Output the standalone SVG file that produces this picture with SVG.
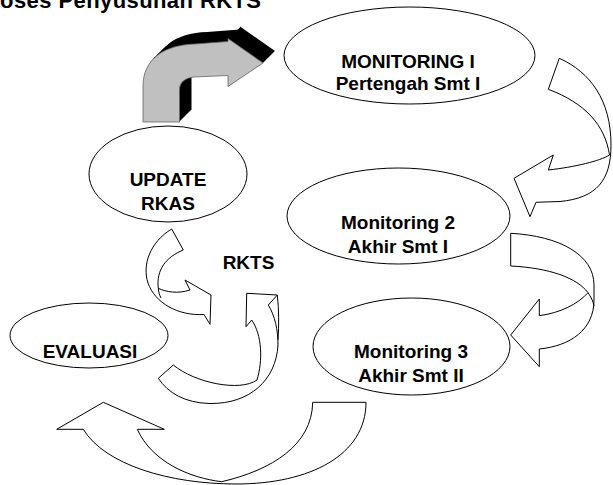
<svg xmlns="http://www.w3.org/2000/svg" xmlns:xlink="http://www.w3.org/1999/xlink" width="613" height="485" viewBox="0 0 613 485">
<style>
.node{fill:#fff;stroke:#000;stroke-width:1}
.lbl{font-family:"Liberation Sans",Arial,sans-serif;font-weight:bold;font-size:19px;fill:#000;text-anchor:middle}
.arr{fill:#fff;stroke:#000;stroke-width:1;stroke-linejoin:miter}
.ln{fill:none;stroke:#000;stroke-width:1}
</style>
<defs>
<path id="bent" d="M143,122 L143,86 C143,60 163,45 195,44 L228,41.5 L228,38.5 L263,63 L228,86.5 L228,75.5 L194,77 C185,78 179.5,82 179.5,90 L179.5,122 Z"/>
</defs>
<rect width="613" height="485" fill="#fff"/>
<text x="-24" y="7.5" textLength="285" lengthAdjust="spacing" style="font-family:'Liberation Sans',Arial,sans-serif;font-weight:bold;font-size:22px">Proses Penyusunan RKTS</text>

<g id="connectors">
  <g id="bent-arrow">
    <use xlink:href="#bent" href="#bent" transform="translate(1,-1)" fill="#000"/>
    <use xlink:href="#bent" href="#bent" transform="translate(2,-2)" fill="#000"/>
    <use xlink:href="#bent" href="#bent" transform="translate(3,-3)" fill="#000"/>
    <use xlink:href="#bent" href="#bent" transform="translate(4,-4)" fill="#000"/>
    <use xlink:href="#bent" href="#bent" transform="translate(5,-5)" fill="#000"/>
    <use xlink:href="#bent" href="#bent" transform="translate(6,-6)" fill="#000"/>
    <use xlink:href="#bent" href="#bent" transform="translate(7,-7)" fill="#000"/>
    <use xlink:href="#bent" href="#bent" transform="translate(8,-8)" fill="#000"/>
    <use xlink:href="#bent" href="#bent" transform="translate(9,-9)" fill="#000"/>
    <use xlink:href="#bent" href="#bent" transform="translate(10,-10)" fill="#000"/>
    <use xlink:href="#bent" href="#bent" transform="translate(11,-11)" fill="#000"/>
    <use xlink:href="#bent" href="#bent" transform="translate(12,-12)" fill="#000"/>
    <use xlink:href="#bent" href="#bent" fill="#c0c0c0" stroke="#666" stroke-width="0.8"/>
  </g>
  <path id="arrow-a" class="arr" d="M559.3,58.3 C590,72 611,100 611,145 C611,180 597,198 560,201.5 L536,202.3 L530,216.7 L514,178.3 L553.3,155 L548.3,170 C575,167 600,161 609.5,155 C605,125 585,103 548.3,89.3 Z"/>
  <path id="arrow-b" class="arr" d="M510.7,233.3 C560,236 594,255 594,285 L594,300 C594,330 570,346 539.3,349 L539.3,366.7 L510.7,335 L539.3,299 L539.3,315.7 C560,313 578,304 588,292.7 C577,278 550,268 510.7,266 Z"/>
  <path class="ln" d="M588,292.7 C591,297 593,301 594,306"/>
  <path id="arrow-c" class="arr" d="M312.7,402.3 L366,402.3 C366,455 310,484 236,484 C170,484 105,465 83.3,429.3 L56.7,429.3 L103.3,402.3 L164.3,429.3 L137.3,429.3 C152,462 190,478 221.7,481.7 C272,470 312,445 312.7,402.3 Z"/>
  <path id="arrow-d" class="arr" d="M171.7,229 C150,242 142,265 148,283 C155,303 178,316 204,314.5 L210,324.3 L211,295 L185,280 L190,290 C178,294 166,292 158.3,288.3 C156,270 166,257 183.3,250 Z"/>
  <path class="ln" d="M158.3,288.3 C158.5,292 159.5,295 161,298"/>
  <path id="arrow-e" class="arr" d="M173.3,365 C195,383 240,392 257,380 C263,360 262,335 251.7,320 L246,326.7 L246.7,293.3 L277.3,295 L268.3,305 C275,316 278,330 278,345 C276,380 250,404 210,403.5 C185,403 168,393 158.3,378.3 Z"/>
  <path class="ln" d="M277.3,295 C279,310 279,325 278,340"/>
</g>

<g id="monitoring1">
  <ellipse class="node" cx="409.5" cy="55.5" rx="125.5" ry="48.5"/>
  <text class="lbl" x="408" y="68">MONITORING I</text>
  <text class="lbl" x="408" y="90">Pertengah Smt I</text>
</g>
<g id="update-rkas">
  <ellipse class="node" cx="168" cy="174" rx="79" ry="48"/>
  <text class="lbl" x="168" y="186">UPDATE</text>
  <text class="lbl" x="168" y="210">RKAS</text>
</g>
<g id="monitoring2">
  <ellipse class="node" cx="398.5" cy="216" rx="111.5" ry="48"/>
  <text class="lbl" x="398" y="229">Monitoring 2</text>
  <text class="lbl" x="398" y="253">Akhir Smt I</text>
</g>
<g id="rkts">
  <text class="lbl" x="248.5" y="269">RKTS</text>
</g>
<g id="evaluasi">
  <ellipse class="node" cx="89" cy="335.5" rx="79" ry="32.5"/>
  <text class="lbl" x="90" y="358">EVALUASI</text>
</g>
<g id="monitoring3">
  <ellipse class="node" cx="411.5" cy="346.5" rx="98.5" ry="48.5"/>
  <text class="lbl" x="411" y="358">Monitoring 3</text>
  <text class="lbl" x="411" y="381.5">Akhir Smt II</text>
</g>
</svg>
